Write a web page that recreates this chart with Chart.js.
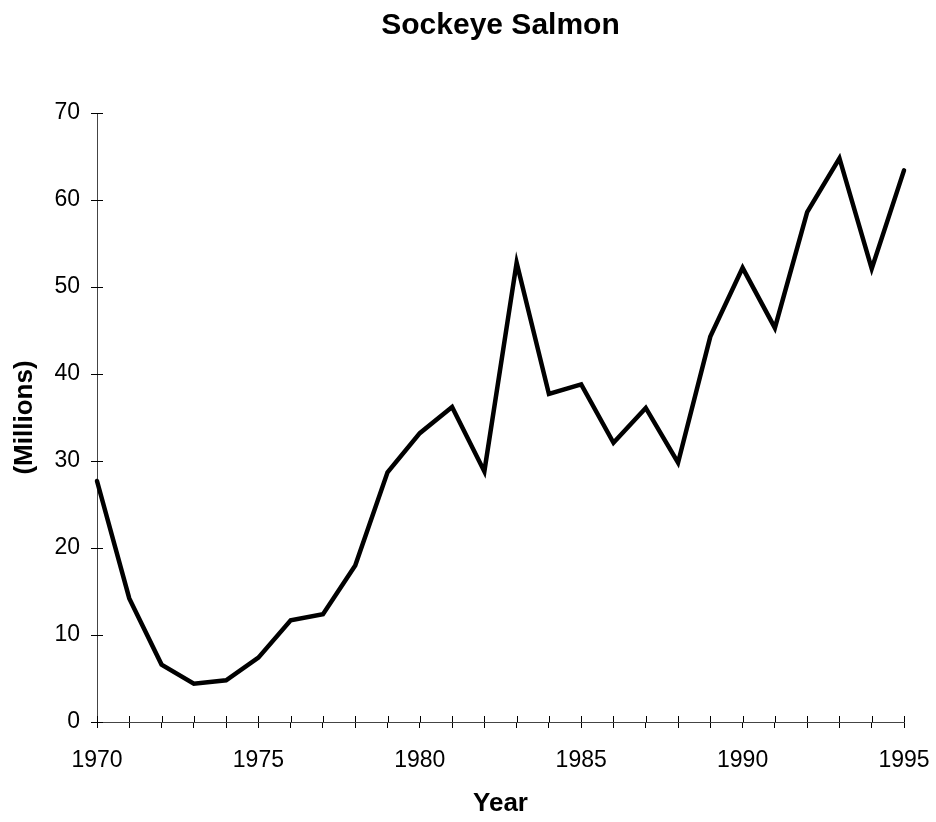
<!DOCTYPE html>
<html>
<head>
<meta charset="utf-8">
<script src="https://cdn.jsdelivr.net/npm/chart.js@4.4.0/dist/chart.umd.min.js"></script>
<style>
  html, body { margin: 0; padding: 0; background: #fff; }
  #wrap { width: 936px; height: 822px; }
</style>
</head>
<body>
<div id="wrap"><canvas id="salmonChart"></canvas></div>
<script>
// Sockeye salmon catch, millions of fish
const years = [1970, 1971, 1972, 1973, 1974, 1975, 1976, 1977, 1978, 1979,
               1980, 1981, 1982, 1983, 1984, 1985, 1986, 1987, 1988, 1989,
               1990, 1991, 1992, 1993, 1994, 1995];
const catchMillions = [27.7, 14.2, 6.6, 4.4, 4.8, 7.4, 11.7, 12.4, 18.0, 28.7,
                       33.2, 36.2, 28.8, 52.8, 37.7, 38.8, 32.1, 36.1, 29.8, 44.3,
                       52.2, 45.3, 58.6, 64.8, 52.1, 63.4];
const yTicks = [0, 10, 20, 30, 40, 50, 60, 70];
const xLabelYears = [1970, 1975, 1980, 1985, 1990, 1995];

const FONT = 'Liberation Sans, Arial, Helvetica, sans-serif';

// ticks in the original cross the axis, chart.js only draws the outer half
const innerTicks = {
    id: 'innerTicks',
    afterDraw(chart) {
        const ctx = chart.ctx;
        const xs = chart.scales.x, ys = chart.scales.y;
        ctx.save();
        ctx.strokeStyle = '#000';
        ctx.lineWidth = 1;
        ctx.beginPath();
        xs.ticks.forEach(function (t, i) {
            const px = Math.round(xs.getPixelForTick(i)) + 0.5;
            ctx.moveTo(px, xs.top);
            ctx.lineTo(px, xs.top - 6);
        });
        ys.ticks.forEach(function (t, i) {
            const py = Math.round(ys.getPixelForTick(i)) + 0.5;
            ctx.moveTo(ys.right, py);
            ctx.lineTo(ys.right + 6, py);
        });
        ctx.stroke();
        ctx.restore();
    }
};

const points = years.map(function (yr, i) { return { x: yr, y: catchMillions[i] }; });

new Chart(document.getElementById('salmonChart'), {
    type: 'line',
    data: {
        datasets: [{
            data: points,
            borderColor: '#000',
            borderWidth: 4.5,
            borderJoinStyle: 'miter',
            borderCapStyle: 'round',
            pointRadius: 0,
            tension: 0,
            fill: false,
            clip: false
        }]
    },
    options: {
        responsive: true,
        maintainAspectRatio: false,
        animation: false,
        layout: { padding: { left: 0, right: 32, top: 0, bottom: 0 } },
        plugins: {
            legend: { display: false },
            tooltip: { enabled: false },
            title: {
                display: true,
                fullSize: false,
                text: 'Sockeye Salmon',
                color: '#000',
                font: { family: FONT, size: 30, weight: 'bold' },
                padding: { top: 8, bottom: 69 }
            }
        },
        scales: {
            x: {
                type: 'linear',
                min: 1970,
                max: 1995,
                afterFit: function (scale) {
                    scale.height = 100;
                    scale.paddingLeft = 0;
                    scale.paddingRight = 0;
                },
                afterBuildTicks: function (scale) {
                    scale.ticks = years.map(function (v) { return { value: v }; });
                },
                ticks: {
                    autoSkip: false,
                    maxRotation: 0,
                    color: '#000',
                    padding: 19,
                    font: { family: FONT, size: 23 },
                    callback: function (v) { return xLabelYears.includes(v) ? String(v) : ''; }
                },
                grid: { drawOnChartArea: false, tickLength: 6, color: '#000', tickWidth: 1 },
                border: { color: '#444', width: 1 },
                title: {
                    display: true,
                    text: 'Year',
                    color: '#000',
                    font: { family: FONT, size: 26, weight: 'bold' },
                    padding: { bottom: 3 }
                }
            },
            y: {
                min: 0,
                max: 70,
                afterFit: function (scale) { scale.width = 97; },
                afterBuildTicks: function (scale) {
                    scale.ticks = yTicks.map(function (v) { return { value: v }; });
                },
                ticks: {
                    color: '#000',
                    padding: 11,
                    font: { family: FONT, size: 23 }
                },
                grid: { drawOnChartArea: false, tickLength: 6, color: '#000', tickWidth: 1 },
                border: { color: '#444', width: 1 },
                title: {
                    display: true,
                    text: '(Millions)',
                    color: '#000',
                    font: { family: FONT, size: 26, weight: 'bold' },
                    padding: { top: 9 }
                }
            }
        }
    },
    plugins: [innerTicks]
});
</script>
</body>
</html>
